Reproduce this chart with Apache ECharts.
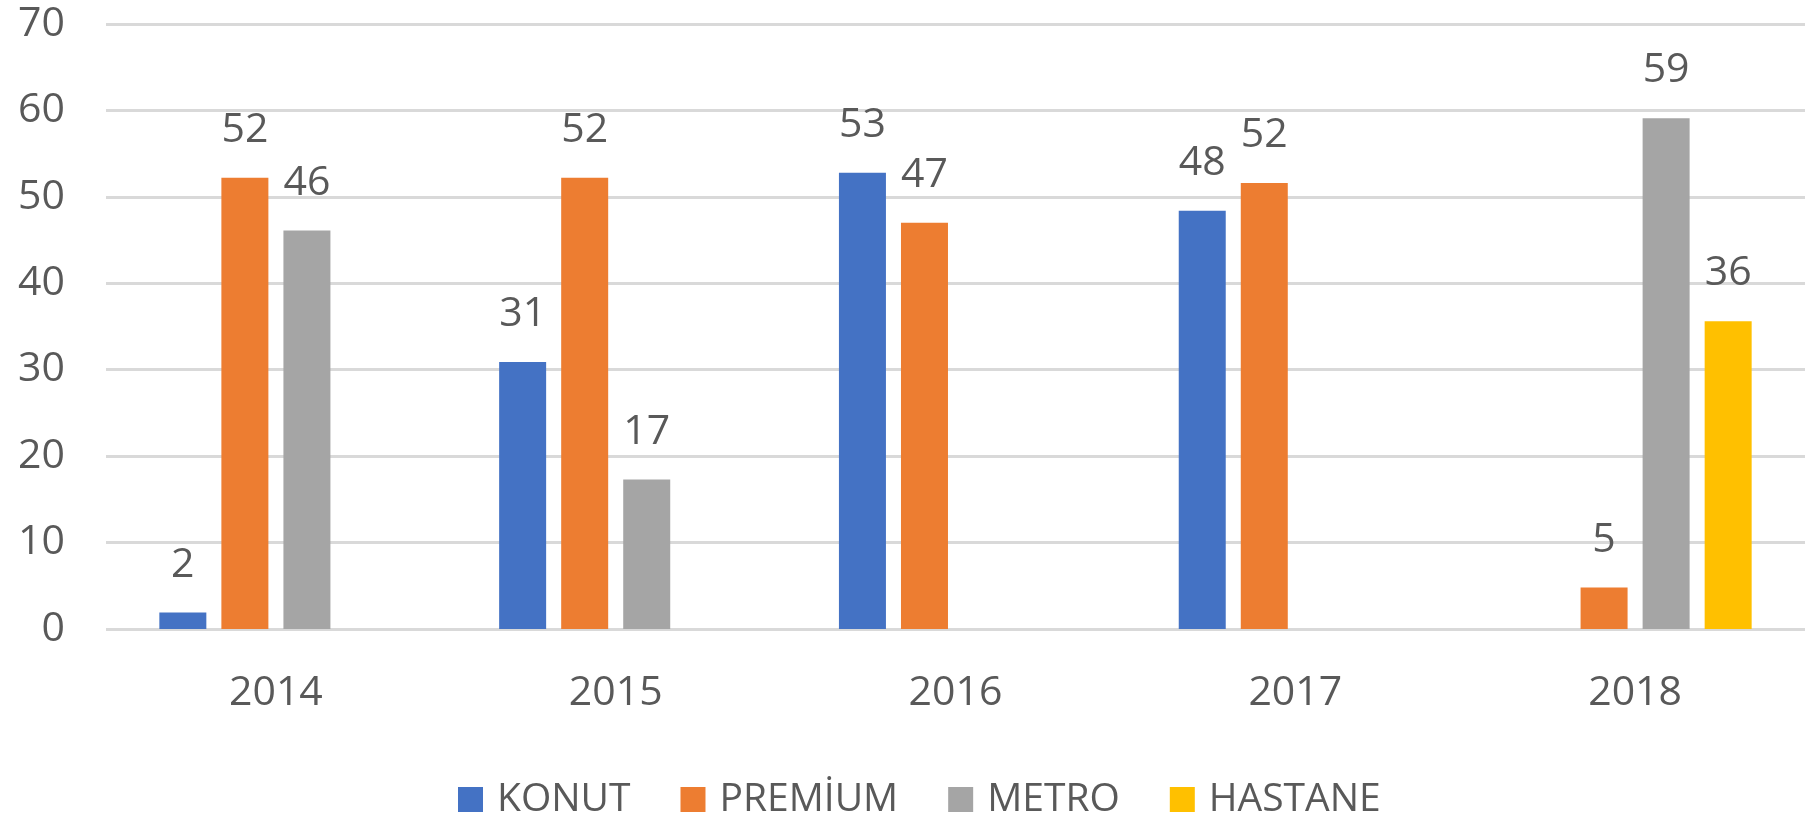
<!DOCTYPE html>
<html>
<head>
<meta charset="utf-8">
<script src="https://cdn.jsdelivr.net/npm/echarts@6/dist/echarts.min.js"></script>
<style>
html,body{margin:0;padding:0;background:#fff;}
#paint{width:1805px;height:817px;}
</style>
</head>
<body>
<div id="paint"></div>
<script>
// yillar
var years = ['2014', '2015', '2016', '2017', '2018'];
var yTicks = [0, 10, 20, 30, 40, 50, 60, 70];
// seri degerleri
var konut = [1.9, 30.9, 52.8, 48.4, null];
var premium = [52.2, 52.2, 47.0, 51.6, 4.8];
var metro = [46.1, 17.3, null, null, 59.1];
var hastane = [null, null, null, null, 35.6];

var textColor = '#595959';
var font = 'Open Sans';

function bar(name, data, color){
    return {
        name: name,
        type: 'bar',
        data: data,
        barWidth: 47,
        barGap: '32%',
        itemStyle: {color: color},
        label: {
            show: true,
            position: 'top',
            distance: 27,
            color: textColor,
            fontFamily: font,
            fontSize: 41,
            formatter: function(p){
                return Math.round(p.value);
            }
        }
    };
}

let chart = echarts.init(document.getElementById('paint'));

option = {
    animation: false,
    grid: {
        left: 106,
        right: 0,
        top: 24,
        bottom: 188
    },
    legend: {
        data: ['KONUT', 'PREMİUM', 'METRO', 'HASTANE'],
        left: 453,
        top: 775,
        icon: 'rect',
        itemWidth: 25,
        itemHeight: 25,
        itemGap: 50,
        textStyle: {
            color: textColor,
            fontFamily: font,
            fontSize: 39,
            padding: [0, 0, 0, 9]
        }
    },
    xAxis: {
        type: 'category',
        data: years,
        axisLine: {show: false},
        axisTick: {show: false},
        axisLabel: {
            color: textColor,
            fontFamily: font,
            fontSize: 41,
            margin: 44
        }
    },
    yAxis: {
        type: 'value',
        min: yTicks[0],
        max: yTicks[yTicks.length - 1],
        interval: 10,
        axisLine: {show: false},
        axisTick: {show: false},
        axisLabel: {
            color: textColor,
            fontFamily: font,
            fontSize: 41,
            margin: 41
        },
        splitLine: {
            lineStyle: {color: '#d9d9d9', width: 3}
        }
    },
    series: [
        bar('KONUT', konut, '#4472C4'),
        bar('PREMİUM', premium, '#ED7D31'),
        bar('METRO', metro, '#A5A5A5'),
        bar('HASTANE', hastane, '#FFC000')
    ]
};

chart.setOption(option);
</script>
</body>
</html>
